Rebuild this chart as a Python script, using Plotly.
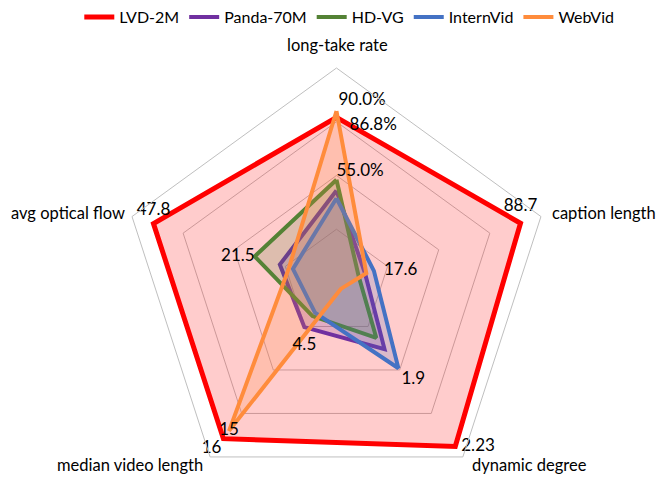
import plotly.graph_objects as go

# axes, clockwise from the top
categories = ["long-take rate", "caption length", "dynamic degree",
              "median video length", "avg optical flow"]

# radial values (fraction of the outer ring)
lvd_2m = [0.77, 0.90, 0.94, 0.895, 0.895]
panda_70m = [0.43, 0.14, 0.38, 0.254, 0.277]
hd_vg = [0.48, 0.108, 0.315, 0.19, 0.40]
internvid = [0.394, 0.183, 0.49, 0.17, 0.213]
webvid = [0.80, 0.146, 0.034, 0.85, 0.232]

series_names = ["LVD-2M", "Panda-70M", "HD-VG", "InternVid", "WebVid"]
series_values = [lvd_2m, panda_70m, hd_vg, internvid, webvid]
colors = ["#FF0000", "#7030A0", "#548235", "#4472C4", "#FF8C3C"]
fills = ["rgba(255,0,0,0.2)", "rgba(112,48,160,0.2)", "rgba(84,130,53,0.2)",
         "rgba(68,114,196,0.2)", "rgba(255,140,60,0.2)"]
widths = [5, 4, 4, 4, 4]

# data labels: (series, axis, text, position, gap in px)
labels = [
    ("WebVid", 0, "90.0%", "top right", 2),
    ("LVD-2M", 0, "   86.8%", "bottom right", 0),
    ("HD-VG", 0, "55.0%", "top right", 0),
    ("LVD-2M", 1, "88.7", "top center", 8),
    ("InternVid", 1, "17.6", "middle right", 10),
    ("InternVid", 2, "1.9", "bottom right", 3),
    ("LVD-2M", 2, "2.23", "middle right", 6),
    ("Panda-70M", 3, "4.5", "bottom center", 10),
    ("WebVid", 3, "15", "middle center", 0),
    ("LVD-2M", 3, "16", "bottom left", 2),
    ("HD-VG", 4, "21.5", "middle left", 0),
    ("LVD-2M", 4, "47.8", "top center", 4),
]

# axis names: (paper x, paper y, anchor)
axis_titles = [
    (0.4955, 0.926, "center"),
    (0.8163, 0.590, "left"),
    (0.6958, 0.086, "left"),
    (0.2967, 0.086, "right"),
    (0.0015, 0.590, "left"),
]

font = "Lato"
fsize = 17

fig = go.Figure()

for name, vals, c, fc, w in zip(series_names, series_values, colors, fills, widths):
    fig.add_trace(go.Scatterpolar(
        r=vals + vals[:1], theta=categories + categories[:1],
        mode="none", fill="toself", fillcolor=fc,
        showlegend=False, hoverinfo="skip",
    ))
    fig.add_trace(go.Scatterpolar(
        r=vals + vals[:1], theta=categories + categories[:1],
        mode="lines", name=name,
        line=dict(color=c, width=w),
    ))

for sname, idx, txt, pos, gap in labels:
    vals = series_values[series_names.index(sname)]
    # an invisible marker sets how far the label sits from the vertex
    msize = 1.6 * (gap - 1) if gap > 1 else 0
    fig.add_trace(go.Scatterpolar(
        r=[vals[idx]], theta=[categories[idx]],
        mode="markers+text" if msize else "text",
        marker=dict(size=msize, opacity=0),
        text=[txt], textposition=pos,
        textfont=dict(family=font, size=fsize, color="black"),
        showlegend=False, hoverinfo="skip",
    ))

for name, (ax, ay, anchor) in zip(categories, axis_titles):
    fig.add_annotation(text=name, x=ax, y=ay, xref="paper", yref="paper",
                       xanchor=anchor, yanchor="middle", showarrow=False,
                       font=dict(family=font, size=16.5, color="black"))

fig.update_layout(
    width=664,
    height=500,
    margin=dict(l=0, r=0, t=0, b=0, autoexpand=False),
    paper_bgcolor="white",
    font=dict(family=font, size=fsize, color="black"),
    showlegend=True,
    legend=dict(orientation="h", x=0.514, xanchor="center", y=0.982, yanchor="middle",
                font=dict(family=font, size=16), itemwidth=30, tracegroupgap=0),
    polar=dict(
        domain=dict(x=[0.1709, 0.8185], y=[0.02, 0.88]),
        bgcolor="white",
        gridshape="linear",
        radialaxis=dict(range=[0, 1], tickvals=[0.25, 0.5, 0.75, 1.0],
                        showticklabels=False, ticks="", showline=False,
                        gridcolor="#BFBFBF", gridwidth=1),
        angularaxis=dict(rotation=90, direction="clockwise", showgrid=False,
                         showline=True, linecolor="#BFBFBF", linewidth=1,
                         ticks="", showticklabels=False),
    ),
)

fig.write_html("out.html")
